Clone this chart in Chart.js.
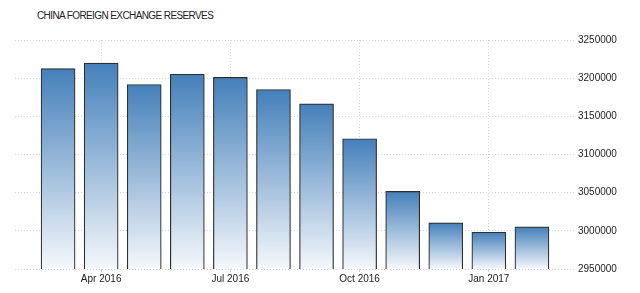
<!DOCTYPE html>
<html>
<head>
<meta charset="utf-8">
<script src="https://cdn.jsdelivr.net/npm/chart.js@4/dist/chart.umd.min.js"></script>
<style>
  html, body { margin: 0; padding: 0; background: #fff; }
  #wrap { position: relative; width: 640px; height: 293px; }
  #title {
    position: absolute; left: 37px; top: 10px;
    font: 10px "Liberation Sans", Arial, sans-serif;
    letter-spacing: -0.6px; color: #222;
  }
  canvas { position: absolute; left: 0; top: 0; }
</style>
</head>
<body>
<div id="wrap">
  <div id="title">CHINA FOREIGN EXCHANGE RESERVES</div>
  <canvas id="reservesChart" width="640" height="293"></canvas>
</div>
<script>
"use strict";

// Months shown, Mar 2016 .. Feb 2017
const months = [
  "Mar 2016", "Apr 2016", "May 2016", "Jun 2016", "Jul 2016", "Aug 2016",
  "Sep 2016", "Oct 2016", "Nov 2016", "Dec 2016", "Jan 2017", "Feb 2017",
];
// USD million
const reserves = [
  3212580, 3219700, 3191700, 3205160, 3201050, 3185170,
  3166380, 3120660, 3051600, 3010520, 2998200, 3005120,
];
const xTickIndexes = [1, 4, 7, 10];
const yTicks = [2950000, 3000000, 3050000, 3100000, 3150000, 3200000, 3250000];

const points = reserves.map((value, i) => ({ x: i, y: value }));

// each bar fades from blue at its top to near white at the baseline
const barGradient = (context) => {
  const chart = context.chart;
  const { chartArea, scales } = chart;
  if (!chartArea || context.raw === undefined) return "#4a80b8";
  const top = scales.y.getPixelForValue(context.raw.y);
  const grad = chart.ctx.createLinearGradient(0, top, 0, chartArea.bottom);
  grad.addColorStop(0, "rgb(68,128,186)");
  grad.addColorStop(1, "rgb(245,248,252)");
  return grad;
};

const tickFont = { family: "'Liberation Sans', Arial, sans-serif", size: 10 };

new Chart(document.getElementById("reservesChart"), {
  type: "bar",
  data: {
    datasets: [
      {
        data: points,
        backgroundColor: barGradient,
        borderColor: "#2e2e2e",
        borderWidth: 1.2,
        borderSkipped: false,
        barThickness: 34,
      },
    ],
  },
  options: {
    responsive: false,
    animation: false,
    layout: { padding: { left: 15, top: 40, right: 0, bottom: 7 } },
    plugins: {
      legend: { display: false },
      tooltip: { enabled: false },
    },
    scales: {
      x: {
        type: "linear",
        min: -1,
        max: 12,
        offset: false,
        afterBuildTicks: (scale) => {
          scale.ticks = xTickIndexes.map((v) => ({ value: v }));
        },
        ticks: {
          color: "#222",
          font: tickFont,
          padding: 1,
          maxRotation: 0,
          autoSkip: false,
          callback: (value) => months[value],
        },
        grid: { color: "#d4d4d4", tickLength: 3, offset: false },
        border: { display: false, dash: [1, 2] },
      },
      y: {
        position: "right",
        min: 2950000,
        max: 3250000,
        afterBuildTicks: (scale) => {
          scale.ticks = yTicks.map((v) => ({ value: v }));
        },
        afterFit: (scale) => {
          scale.width = 65;
        },
        ticks: {
          color: "#222",
          font: tickFont,
          padding: 3,
          callback: (value) => String(value),
        },
        grid: { color: "#d4d4d4", drawTicks: false },
        border: { display: false, dash: [1, 2] },
      },
    },
  },
});
</script>
</body>
</html>
